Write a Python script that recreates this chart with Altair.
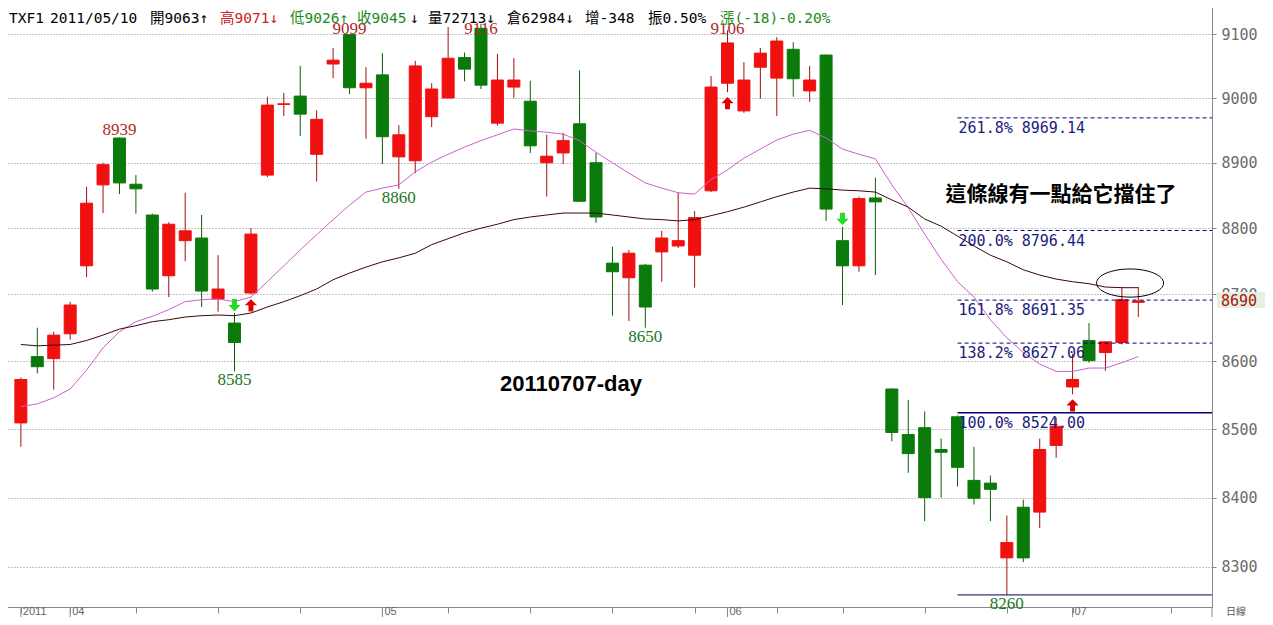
import altair as alt
import pandas as pd

# ---------------- data ----------------
idx = list(range(1, 70))
opens = [8509, 8607, 8604, 8641, 8743, 8866, 8938, 8867, 8820, 8728,
         8781, 8785, 8693, 8657, 8702, 8881, 8990, 9003, 8913, 9053,
         9099, 9016, 9036, 8909, 8903, 8971, 9000, 9063, 9109, 8961,
         9017, 8995, 8900, 8915, 8960, 8900, 8747, 8725, 8744, 8764,
         8773, 8759, 8857, 9023, 8980, 9048, 9031, 9076, 9011, 9067,
         8781, 8743, 8846, 8559, 8492, 8502, 8470, 8518, 8425, 8421,
         8313, 8386, 8379, 8476, 8562, 8631, 8613, 8628, 8688]
highs = [8576, 8650, 8644, 8689, 8863, 8900, 8939, 8881, 8822, 8809,
         8854, 8820, 8759, 8672, 8800, 9002, 9008, 9050, 8981, 9078,
         9099, 9048, 9070, 8958, 9058, 9023, 9111, 9071, 9116, 9069,
         9062, 9027, 8943, 8946, 9043, 8915, 8772, 8767, 8746, 8796,
         8854, 8826, 9034, 9106, 9056, 9078, 9095, 9087, 9050, 9068,
         8802, 8848, 8877, 8560, 8543, 8526, 8486, 8520, 8474, 8432,
         8374, 8397, 8486, 8517, 8611, 8657, 8630, 8711, 8711]
lows = [8474, 8582, 8558, 8632, 8726, 8823, 8852, 8822, 8704, 8696,
        8750, 8681, 8674, 8585, 8700, 8878, 8972, 8941, 8871, 9031,
        9006, 8937, 8898, 8860, 8884, 8955, 9000, 9026, 9014, 8957,
        9000, 8915, 8848, 8898, 8840, 8808, 8668, 8660, 8650, 8719,
        8770, 8710, 8855, 9009, 8977, 8999, 8972, 9002, 8994, 8811,
        8684, 8734, 8729, 8482, 8436, 8366, 8400, 8416, 8390, 8366,
        8260, 8307, 8356, 8458, 8551, 8598, 8586, 8625, 8666]
closes = [8573, 8592, 8639, 8684, 8838, 8897, 8869, 8860, 8708, 8806,
          8796, 8705, 8708, 8628, 8791, 8989, 8991, 8975, 8967, 9059,
          9016, 9023, 8940, 8943, 9050, 9014, 9062, 9045, 9020, 9028,
          9028, 8926, 8910, 8934, 8841, 8817, 8734, 8762, 8681, 8785,
          8781, 8816, 9017, 9086, 9028, 9070, 9089, 9030, 9028, 8829,
          8743, 8845, 8840, 8495, 8464, 8400, 8466, 8444, 8399, 8412,
          8335, 8313, 8470, 8504, 8573, 8601, 8629, 8692, 8690]
ma_pink = [8533, 8537, 8546, 8559, 8587, 8620, 8644, 8659, 8667, 8677,
           8689, 8692, 8693, 8689, 8696, 8719, 8743, 8767, 8790, 8813,
           8835, 8855, 8861, 8866, 8886, 8901, 8913, 8924, 8934, 8943,
           8952, 8949, 8947, 8944, 8934, 8916, 8900, 8884, 8869, 8861,
           8854, 8852, 8874, 8889, 8907, 8921, 8935, 8944, 8950, 8938,
           8921, 8913, 8906, 8866, 8831, 8791, 8753, 8719, 8696, 8662,
           8635, 8613, 8596, 8585, 8585, 8590, 8590, 8598, 8607]
ma_dark = [8625, 8623, 8624, 8625, 8631, 8639, 8648, 8653, 8659, 8662,
           8666, 8668, 8669, 8668, 8672, 8681, 8689, 8698, 8708, 8722,
           8732, 8741, 8749, 8755, 8762, 8775, 8784, 8793, 8800, 8806,
           8813, 8817, 8820, 8823, 8823, 8823, 8820, 8817, 8814, 8813,
           8811, 8813, 8819, 8825, 8832, 8840, 8848, 8855, 8861, 8860,
           8858, 8857, 8855, 8843, 8832, 8814, 8803, 8788, 8773, 8759,
           8749, 8737, 8729, 8723, 8719, 8716, 8711, 8710, 8710]

week_ticks = [1, 4, 8, 13, 18, 23, 27, 32, 37, 42, 44, 47, 51, 56, 61, 65, 71]
month_ticks = [1, 4, 23, 44, 65]
month_labels = ["2011", "04", "05", "06", "07"]
y_ticks = [8300, 8400, 8500, 8600, 8700, 8800, 8900, 9000, 9100]

hi_idx = [7, 21, 29, 44]
hi_val = [8939, 9099, 9116, 9106]
lo_idx = [14, 24, 39, 61]
lo_val = [8585, 8860, 8650, 8260]
up_arrow_idx = [15, 44, 65]
down_arrow_idx = [14, 51]

fib_pct = ["261.8%", "200.0%", "161.8%", "138.2%", "100.0%"]
fib_val = [8969.14, 8796.44, 8691.35, 8627.06, 8524.00]
fib_start = 58
low_line_val = 8260
last_close = 8690

header_texts = ["TXF1", "2011/05/10", "開9063↑", "高9071↓", "低9026↑", "收9045", "↓",
                "量72713↓", "倉62984↓", "增-348", "振0.50%", "漲(-18)-0.20%"]
header_colors = ["#000000", "#000000", "#000000", "#cc2222", "#1a8a1a", "#1a8a1a", "#000000",
                 "#000000", "#000000", "#000000", "#000000", "#1a8a1a"]
header_x = [9, 50, 150, 220, 290, 357, 410, 428, 507, 585, 648, 720]

# ---------------- styling ----------------
RED_BODY, GREEN_BODY = "#f01010", "#0a7a0a"
RED_WICK, GREEN_WICK = "#a01010", "#0b5e0b"
W, H = 1212, 607
PAD_R, PAD_B = 53, 10

xs = alt.Scale(domain=[0.034, 73.18], nice=False, zero=False)
ys = alt.Scale(type="log", domain=[8242.8, 9153.6], nice=False)

x_axis = alt.Axis(values=week_ticks, labels=False, ticks=True, tickSize=6, tickColor="#888888",
                  domainColor="#888888", grid=False, title=None, orient="bottom")
y_axis = alt.Axis(orient="right", values=y_ticks, format="d", grid=True, gridDash=[1, 2],
                  gridColor="#8a8a8a", gridWidth=1, tickSize=4, tickColor="#888888",
                  domainColor="#888888", labelColor="#6b6b6b", labelFont="DejaVu Sans Mono",
                  labelFontSize=15, labelPadding=5, labelOverlap=False, labelFlush=False,
                  title=None)


def X(field):
    return alt.X(field, scale=xs, axis=x_axis)


def Y(field):
    return alt.Y(field, scale=ys, axis=y_axis)


candles = pd.DataFrame({"i": idx, "open": opens, "high": highs, "low": lows, "close": closes})
up_test = "datum.close >= datum.open"

wicks = alt.Chart(candles).mark_rule(strokeWidth=1).encode(
    x=X("i:Q"), y=Y("low:Q"), y2="high:Q",
    color=alt.condition(up_test, alt.value(RED_WICK), alt.value(GREEN_WICK)),
)
bodies = alt.Chart(candles).mark_bar(size=12, strokeWidth=1).encode(
    x=X("i:Q"), y=Y("open:Q"), y2="close:Q",
    color=alt.condition(up_test, alt.value(RED_BODY), alt.value(GREEN_BODY)),
    stroke=alt.condition(up_test, alt.value(RED_BODY), alt.value(GREEN_BODY)),
)

ma_df = pd.DataFrame({"i": idx, "pink": ma_pink, "dark": ma_dark})
line_pink = alt.Chart(ma_df).mark_line(color="#cc5fcc", strokeWidth=1).encode(
    x=X("i:Q"), y=Y("pink:Q"))
line_dark = alt.Chart(ma_df).mark_line(color="#3a0808", strokeWidth=1).encode(
    x=X("i:Q"), y=Y("dark:Q"))

fib_df = pd.DataFrame({"i": [fib_start] * len(fib_val), "v": fib_val, "pct": fib_pct,
                       "label": [f"{p} {v:.2f}" for p, v in zip(fib_pct, fib_val)]})
fib_dashed = alt.Chart(fib_df).transform_filter("datum.pct != '100.0%'").mark_rule(
    color="#000080", strokeWidth=1, strokeDash=[4, 3]).encode(
    x=X("i:Q"), x2=alt.value(W), y=Y("v:Q"))
fib_solid = alt.Chart(fib_df).transform_filter("datum.pct == '100.0%'").mark_rule(
    color="#000080", strokeWidth=1.5).encode(
    x=X("i:Q"), x2=alt.value(W), y=Y("v:Q"))
fib_text = alt.Chart(fib_df).mark_text(align="left", baseline="top", dx=1, dy=3,
                                       font="DejaVu Sans Mono", fontSize=15,
                                       color="#1c1c7c").encode(
    x=X("i:Q"), y=Y("v:Q"), text="label:N")

low_df = pd.DataFrame({"i": [fib_start], "v": [low_line_val]})
low_line = alt.Chart(low_df).mark_rule(color="#000060", strokeWidth=1).encode(
    x=X("i:Q"), x2=alt.value(W), y=Y("v:Q"))

hi_df = pd.DataFrame({"i": hi_idx, "v": hi_val})
hi_text = alt.Chart(hi_df).transform_calculate(
    pos="min(datum.v + 3, 9100)", t="'' + datum.v").mark_text(
    align="center", baseline="alphabetic", font="Liberation Serif", fontSize=17,
    color="#b02828").encode(x=X("i:Q"), y=Y("pos:Q"), text="t:N")

lo_df = pd.DataFrame({"i": lo_idx, "v": lo_val})
lo_text = alt.Chart(lo_df).transform_calculate(t="'' + datum.v").mark_text(
    align="center", baseline="top", dy=1, font="Liberation Serif", fontSize=17,
    color="#227722").encode(x=X("i:Q"), y=Y("v:Q"), text="t:N")

UP_PATH = "M0,-1L1,0L0.4,0L0.4,1L-0.4,1L-0.4,0L-1,0Z"
DOWN_PATH = "M0,1L1,0L0.4,0L0.4,-1L-0.4,-1L-0.4,0L-1,0Z"
up_df = candles[candles["i"].isin(up_arrow_idx)]
down_df = candles[candles["i"].isin(down_arrow_idx)]
up_arrows = alt.Chart(up_df).mark_point(shape=UP_PATH, size=150, filled=True, opacity=1,
                                        color="#e00000", yOffset=11).encode(
    x=X("i:Q"), y=Y("low:Q"))
down_arrows = alt.Chart(down_df).mark_point(shape=DOWN_PATH, size=150, filled=True, opacity=1,
                                            color="#22dd22", yOffset=-8).encode(
    x=X("i:Q"), y=Y("high:Q"))

ELLIPSE = "M-1,0A1,0.42,0,1,0,1,0A1,0.42,0,1,0,-1,0Z"
ell_df = pd.DataFrame({"i": [68.5], "v": [8717]})
ellipse = alt.Chart(ell_df).mark_point(shape=ELLIPSE, size=4489, filled=False, opacity=1,
                                       color="#000000", strokeWidth=1).encode(
    x=X("i:Q"), y=Y("v:Q"))

month_df = pd.DataFrame({"i": month_ticks, "label": month_labels})
month_rules = alt.Chart(month_df).mark_rule(color="#888888", strokeWidth=1).encode(
    x=X("i:Q"), y=alt.value(H), y2=alt.value(H + 18))
month_text = alt.Chart(month_df).mark_text(align="left", baseline="alphabetic", dx=2,
                                           font="Liberation Sans", fontSize=11,
                                           color="#666666").encode(
    x=X("i:Q"), y=alt.value(H + 8), text="label:N")

one = pd.DataFrame({"k": [0]})
axis_ext = alt.Chart(one).mark_rule(color="#888888").encode(
    x=alt.value(W), y=alt.value(H), y2=alt.value(H + 18))
daily = alt.Chart(one).mark_text(align="left", baseline="alphabetic", font="Noto Sans CJK TC",
                                 fontSize=10, color="#555555", text="日線").encode(
    x=alt.value(W + 14), y=alt.value(H + 8))

last_box = alt.Chart(one).mark_rect(color="#e3f1e3").encode(
    x=alt.value(W + 5), x2=alt.value(W + PAD_R), y=alt.value(292), y2=alt.value(308))
last_df = pd.DataFrame({"v": [last_close]})
last_text = alt.Chart(last_df).transform_calculate(t="'' + datum.v").mark_text(
    align="left", baseline="middle", font="DejaVu Sans Mono", fontSize=15,
    color="#b01010").encode(x=alt.value(W + 9), y=Y("v:Q"), text="t:N")

day_label = alt.Chart(one).mark_text(align="center", baseline="alphabetic",
                                     font="Liberation Sans", fontWeight="bold", fontSize=22,
                                     color="#000000", text="20110707-day").encode(
    x=alt.value(571), y=alt.value(391))
note = alt.Chart(one).mark_text(align="center", baseline="middle",
                                font="Noto Sans CJK TC", fontWeight="bold", fontSize=21,
                                color="#000000", text="這條線有一點給它擋住了").encode(
    x=alt.value(1061), y=alt.value(195))

header_layers = []
for t, c, px in zip(header_texts, header_colors, header_x):
    header_layers.append(
        alt.Chart(one).mark_text(align="left", baseline="alphabetic",
                                 font="DejaVu Sans Mono, Noto Sans CJK TC", fontSize=14.5,
                                 color=c, text=t).encode(x=alt.value(px), y=alt.value(22.5)))

chart = alt.layer(
    wicks, bodies, line_pink, line_dark, fib_dashed, fib_solid, low_line, fib_text,
    hi_text, lo_text, up_arrows, down_arrows, ellipse,
    month_rules, month_text, axis_ext, daily, last_box, last_text,
    day_label, note, *header_layers
).properties(
    width=W, height=H,
    padding={"left": -8, "top": -8, "right": PAD_R, "bottom": PAD_B},
    autosize=alt.AutoSizeParams(type="none"),
    background="white",
).configure_view(strokeWidth=0)

chart.save("out.html", embed_options={"renderer": "svg", "actions": False})
